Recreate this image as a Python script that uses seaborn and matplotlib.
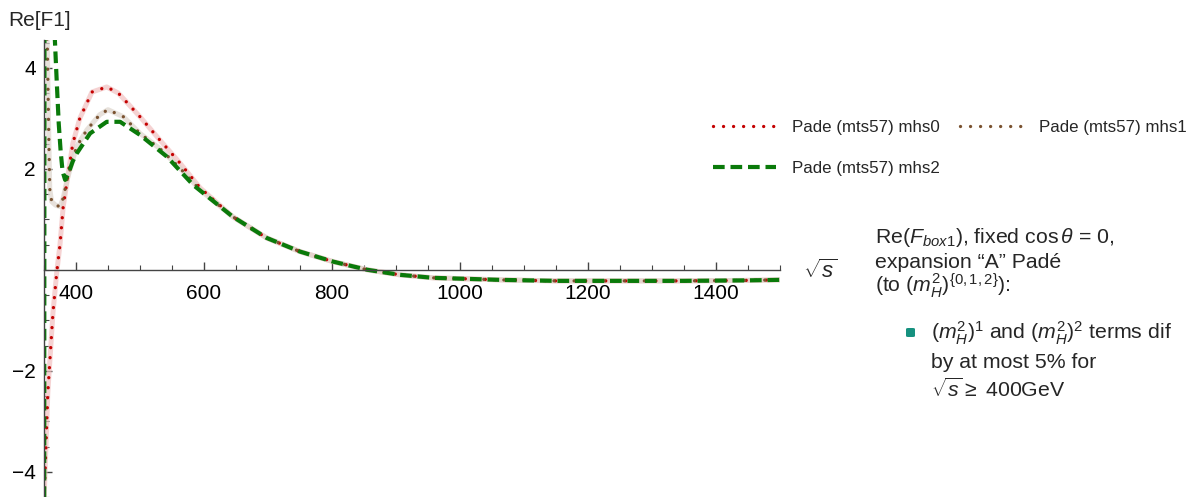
import numpy as np
import pandas as pd
import matplotlib
matplotlib.use("Agg")
import matplotlib.pyplot as plt
from matplotlib.patches import FancyBboxPatch
import seaborn as sns

sns.set_theme(style="white")
plt.rcParams['font.family'] = ['Liberation Sans', 'DejaVu Sans']
plt.rcParams['mathtext.fontset'] = 'custom'
plt.rcParams['mathtext.rm'] = 'Liberation Sans'
plt.rcParams['mathtext.it'] = 'Liberation Sans:italic'
plt.rcParams['mathtext.bf'] = 'Liberation Sans:bold'

# ---------------- data ----------------
tail_s = [645, 698, 750, 802, 855, 906, 958, 1011, 1062, 1150, 1250, 1350, 1450, 1500]
tail_v = [1.05, 0.63, 0.36, 0.16, 0.0, -0.1, -0.16, -0.18, -0.2, -0.22, -0.22, -0.22, -0.21, -0.2]

mhs0_s = [350, 356, 364, 370, 375, 380, 388, 395, 406, 425, 448, 466, 500, 531, 562, 594] + tail_s
mhs0_v = [-4.6, -2.43, -0.85, -0.04, 0.5, 1.25, 1.92, 2.5, 3.0, 3.52, 3.62, 3.5, 3.03, 2.57, 2.12, 1.62] + tail_v

mhs1_s = [350, 355, 357, 359, 362, 368, 375, 380, 386, 401, 417, 437, 450, 474, 500, 531, 562, 594] + tail_s
mhs1_v = [8.0, 4.6, 3.0, 1.6, 1.35, 1.28, 1.25, 1.42, 1.78, 2.44, 2.77, 3.07, 3.17, 3.03, 2.7, 2.4, 2.02, 1.58] + tail_v

mhs2_s = [350, 351, 360, 367, 370, 373, 376, 379, 383, 388, 395, 401, 422, 448, 469, 500, 542, 583] + tail_s
mhs2_v = [-12.0, 12.0, 7.0, 4.55, 3.7, 2.9, 2.35, 1.95, 1.78, 1.9, 2.15, 2.3, 2.7, 2.93, 2.93, 2.67, 2.24, 1.68] + tail_v

labels = ["Pade (mts57) mhs0", "Pade (mts57) mhs1", "Pade (mts57) mhs2"]
x_ticks = [400, 600, 800, 1000, 1200, 1400]
y_ticks = [-4, -2, 2, 4]

# ---------------- figure ----------------
W, H = 1188, 497
fig = plt.figure(figsize=(W / 100, H / 100), dpi=100)
ax = fig.add_axes([44 / W, 0, (780 - 44) / W, 457 / H])

def px(x, y):
    return x / W, 1 - y / H

df0 = pd.DataFrame({"s": mhs0_s, "v": mhs0_v})
df1 = pd.DataFrame({"s": mhs1_s, "v": mhs1_v})
df2 = pd.DataFrame({"s": mhs2_s, "v": mhs2_v})

red, brown, green = "#c40000", "#7a5230", "#0a7a0a"

# translucent backing bands
sns.lineplot(data=df0, x="s", y="v", ax=ax, color="#f2c0c0", lw=3.6, alpha=0.7,
             sort=False, estimator=None, legend=False, solid_capstyle="round")
sns.lineplot(data=df1, x="s", y="v", ax=ax, color="#ddd5cc", lw=3.6, alpha=0.7,
             sort=False, estimator=None, legend=False, solid_capstyle="round")

sns.lineplot(data=df0, x="s", y="v", ax=ax, color=red, lw=2.4, label=labels[0],
             sort=False, estimator=None, dashes=False)
sns.lineplot(data=df1, x="s", y="v", ax=ax, color=brown, lw=2.4, label=labels[1],
             sort=False, estimator=None, dashes=False)
sns.lineplot(data=df2, x="s", y="v", ax=ax, color=green, lw=3.0, label=labels[2],
             sort=False, estimator=None, dashes=False)

lines = ax.get_lines()
dot_style = (0, (0.01, 3.0))
for ln in lines[2:4]:
    ln.set_linestyle(dot_style)
    ln.set_dash_capstyle("round")
lines[4].set_linestyle((0, (2.8, 1.4)))

ax.set_xlim(350, 1500)
ax.set_ylim(-4.5, 4.55)
ax.set_xlabel("")
ax.set_ylabel("")

for side in ["top", "right"]:
    ax.spines[side].set_visible(False)
ax.spines["bottom"].set_position(("data", 0))
ax.spines["left"].set_position(("data", 350))
for side in ["bottom", "left"]:
    ax.spines[side].set_color("#444444")
    ax.spines[side].set_linewidth(1.0)

ax.set_xticks(x_ticks)
ax.set_xticks(np.arange(350, 1501, 50), minor=True)
ax.set_yticks(y_ticks)
ax.set_yticks(np.arange(-4.5, 4.51, 0.5), minor=True)
ax.tick_params(axis="both", which="both", bottom=True, left=True, top=False, right=False)
ax.tick_params(axis="both", which="major", direction="in", length=6, width=1.0,
               color="#444444", labelsize=15, labelcolor="black")
ax.tick_params(axis="both", which="minor", direction="in", length=3.5, width=0.8,
               color="#444444")
ax.tick_params(axis="x", which="major", pad=10.5)
ax.tick_params(axis="y", which="major", pad=6)
ax.set_facecolor("white")

# legend: rows (mhs0, mhs1) then (mhs2)
handles, labs = ax.get_legend_handles_labels()
ax.get_legend().remove()
order = [0, 2, 1]
fig.legend([handles[i] for i in order], [labs[i] for i in order], loc="upper left", ncol=2,
           bbox_to_anchor=px(713, 120), bbox_transform=fig.transFigure,
           frameon=False, fontsize=12.2, handlelength=3.7, handletextpad=0.95,
           columnspacing=1.2, labelspacing=1.55, borderpad=0, borderaxespad=0)

# axis labels
fig.text(*px(8, 26), "Re[F1]", fontsize=15, ha="left", va="baseline")
fig.text(*px(803, 278), r"$\sqrt{s}$", fontsize=16, ha="left", va="baseline")

# annotation text
fs = 15.3
fig.text(*px(875, 243), r"Re($F_{box1}$), fixed cos$\,\theta$ = 0,", fontsize=fs, va="baseline")
fig.text(*px(875, 267.5), "expansion \u201cA\u201d Pad\u00e9", fontsize=fs, va="baseline")
fig.text(*px(875, 292), r"(to $(m_H^2)^{\{0,1,2\}}$):", fontsize=fs, va="baseline")

bx, by = px(906, 337)
fig.patches.append(FancyBboxPatch((bx, by), 9 / W, 9 / H, boxstyle="round,pad=0,rounding_size=0.002",
                                  transform=fig.transFigure, facecolor="#16917f",
                                  edgecolor="none", figure=fig))
fig.text(*px(931, 339), r"$(m_H^2)^1$ and $(m_H^2)^2$ terms dif", fontsize=fs, va="baseline")
fig.text(*px(931, 368), "by at most 5% for", fontsize=fs, va="baseline")
fig.text(*px(931, 397), r"$\sqrt{s} \geq$ 400GeV", fontsize=fs, va="baseline")

fig.savefig("out.png", dpi=100, facecolor="white")
